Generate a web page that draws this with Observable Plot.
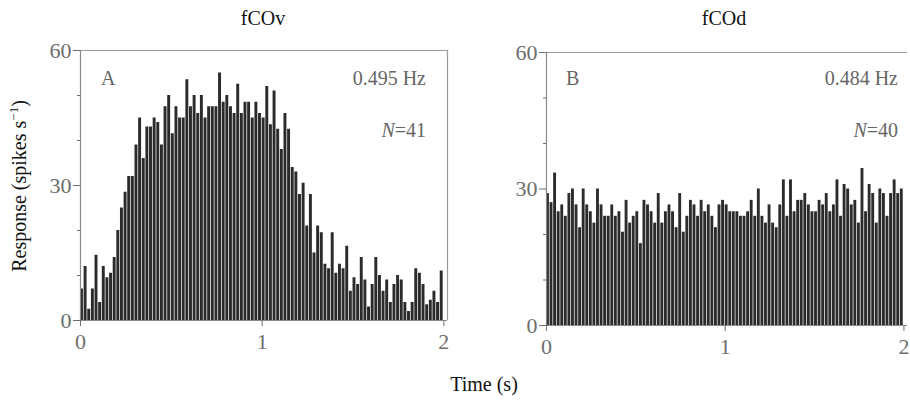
<!DOCTYPE html>
<html>
<head>
<meta charset="utf-8">
<script src="https://cdn.jsdelivr.net/npm/d3@7"></script>
<script src="https://cdn.jsdelivr.net/npm/@observablehq/plot@0.6"></script>
<style>
  html, body { margin: 0; padding: 0; background: #fff; overflow: hidden; }
  #root { position: relative; width: 910px; height: 403px; font-family: "Liberation Serif", "DejaVu Serif", serif; }
  .abs { position: absolute; white-space: nowrap; line-height: 1; }
  .panel { position: absolute; top: 0; }
  .title { font-size: 20px; color: #111; transform: translateX(-50%); }
  .ann { font-size: 20px; color: #666; }
  .r { transform: translateX(-100%); }
</style>
</head>
<body>
<div id="root">
  <div class="panel" id="pa" style="left:0px"></div>
  <div class="panel" id="pb" style="left:460px"></div>
  <div class="abs title" style="left:263px; top:8px">fCOv</div>
  <div class="abs title" style="left:724px; top:8px">fCOd</div>
  <div class="abs ann" style="left:101px; top:68px">A</div>
  <div class="abs ann r" style="left:426px; top:68px">0.495 Hz</div>
  <div class="abs ann r" style="left:426px; top:120px"><i>N</i>=41</div>
  <div class="abs ann" style="left:566px; top:68px">B</div>
  <div class="abs ann r" style="left:898px; top:68px">0.484 Hz</div>
  <div class="abs ann r" style="left:898px; top:120px"><i>N</i>=40</div>
  <div class="abs title" style="left:484px; top:374px">Time (s)</div>
  <div class="abs" style="left:18px; top:186px; font-size:20px; color:#111; transform: translate(-50%,-50%) rotate(-90deg);">Response (spikes s<sup style="font-size:13px">−1</sup>)</div>
</div>
<script>
// Bin width of the peristimulus time histograms (s)
const binWidth = 0.02;
const xTicks = [0, 1, 2];
const yTicks = [0, 30, 60];
const yMinorTicks = [10, 20, 40, 50];

// Panel A: fCOv, spikes/s per 20 ms bin (0–2 s)
const valuesA = [7,12,2.5,7,14.5,4,12,9.5,10.5,14,
  20,25,28.5,32,32,39,45,36,43,43,
  45,44,39,47.5,50,41.5,47.5,45,45,53.5,
  47.5,50,46,50,45,47.5,47.5,47.5,55,48.5,
  50,47.5,46,52.5,46,48.5,48.5,45,48.5,46,
  45,52,43.5,51,42.5,38,46,42.5,34,33,
  28,30.5,21,28,15,21,19.5,12.5,11.5,19.5,
  10.5,12.5,11.5,16.5,6.5,9.5,8,14,9,3,
  8,14,10,6.5,9,4,8,10,9,4,
  2,4,11.5,10.5,8,3.5,4.5,6.5,4,11];

// Panel B: fCOd
const valuesB = [29,27,33.5,25,26.5,24,29,30,26.5,21.5,
  30,26.5,25,22.5,30,26.5,24,24,26.5,24,
  25,20.5,27.5,22.5,24,25,18,27.5,26.5,25,
  22.5,29,22.5,25,26.5,25,21.5,29,20.5,24,
  27.5,26.5,24,27.5,25,26.5,24,21.5,26.5,27.5,
  26.5,25,25,25,24,24,25,27.5,24,30,
  24,22.5,26.5,22.5,21.5,26.5,32,24,32,25,
  27.5,27.5,29,26.5,25,25,27.5,26.5,29,25,
  26.5,32,24,31,30,26.5,27.5,22.5,34.5,25,
  31,29,22.5,30,29,24,29,32,29,30];

function panel(values, cfg) {
  const data = values.map((v, i) => ({x1: i * binWidth, x2: (i + 1) * binWidth, y: v}));
  const marks = [
    Plot.rectY(data, {x1: "x1", x2: "x2", y: "y", fill: "#2b2b2b", insetLeft: 0, insetRight: 0.7}),
    Plot.ruleY([60], {stroke: "#9a9a9a", strokeWidth: 1.2}),
    Plot.ruleX([0], {stroke: "#8a8a8a", strokeWidth: 1.2}),
    Plot.ruleY([0], {stroke: "#8a8a8a", strokeWidth: 1}),
    Plot.axisY({ticks: yTicks, tickSize: 7, tickPadding: 2, label: null, fontSize: 22}),
    Plot.axisY({ticks: yMinorTicks, tickSize: 3, tickFormat: () => "", label: null}),
    Plot.axisX({ticks: xTicks, tickSize: 6, tickPadding: 7, tickFormat: d3.format("d"), label: null, fontSize: 22})
  ];
  if (cfg.rightFrame) marks.push(Plot.ruleX([2.02], {stroke: "#9a9a9a", strokeWidth: 1.2}));
  return Plot.plot({
    width: cfg.width, height: cfg.height,
    marginLeft: cfg.ml, marginRight: cfg.mr, marginTop: cfg.mt, marginBottom: cfg.mb,
    x: {domain: [0, 2.02]},
    y: {domain: [0, 60]},
    style: {fontFamily: "Liberation Serif", fontSize: "22px", color: "#6e6e6e", background: "transparent", overflow: "visible"},
    marks
  });
}

document.getElementById("pa").append(panel(valuesA, {width: 455, height: 362, ml: 80, mr: 8, mt: 50, mb: 42, rightFrame: true}));
document.getElementById("pb").append(panel(valuesB, {width: 450, height: 367, ml: 86, mr: 3, mt: 52, mb: 42, rightFrame: false}));
</script>
</body>
</html>
